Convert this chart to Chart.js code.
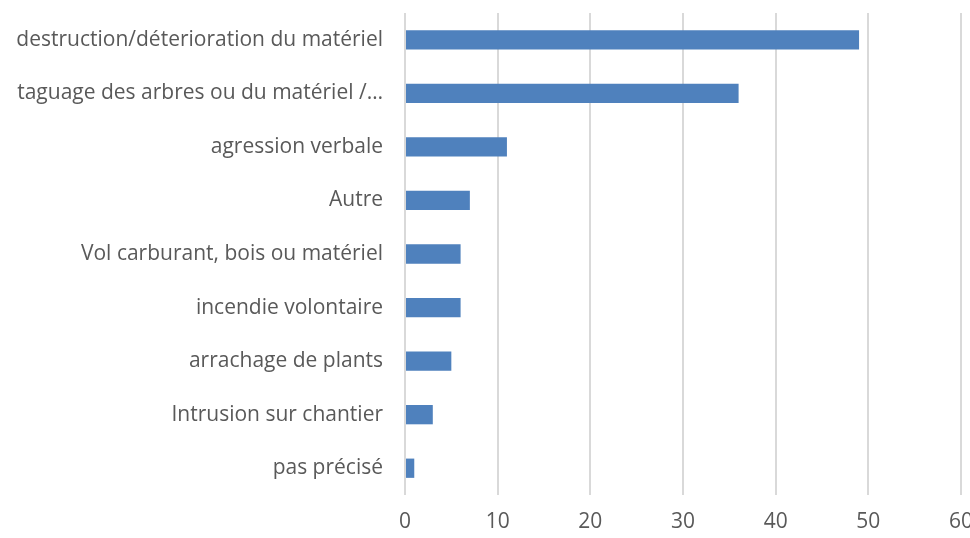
<!DOCTYPE html>
<html>
<head>
<meta charset="utf-8">
<script src="https://cdn.jsdelivr.net/npm/chart.js@4/dist/chart.umd.min.js"></script>
<style>
html,body{margin:0;padding:0;background:#fff;}
#wrap{width:970px;height:538px;position:relative;}
</style>
</head>
<body>
<div id="wrap"><canvas id="c" width="970" height="538"></canvas></div>
<script>
const categories = [
  "destruction/déterioration du matériel",
  "taguage des arbres ou du matériel /…",
  "agression verbale",
  "Autre",
  "Vol carburant, bois ou matériel",
  "incendie volontaire",
  "arrachage de plants",
  "Intrusion sur chantier",
  "pas précisé"
];
const values = [49, 36, 11, 7, 6, 6, 5, 3, 1];
const xTicks = [0, 10, 20, 30, 40, 50, 60];

const FONT = "'Open Sans', 'DejaVu Sans', sans-serif";
new Chart(document.getElementById('c'), {
  type: 'bar',
  data: {
    labels: categories,
    datasets: [{
      data: values,
      backgroundColor: '#4F81BD',
      borderWidth: 0,
      barPercentage: 0.72,
      categoryPercentage: 0.5
    }]
  },
  options: {
    indexAxis: 'y',
    responsive: false,
    animation: false,
    layout: { padding: { top: 13, left: 0, right: 9, bottom: 0 } },
    plugins: { legend: { display: false }, tooltip: { enabled: false } },
    scales: {
      x: {
        min: xTicks[0],
        max: xTicks[xTicks.length - 1],
        afterBuildTicks: (s) => { s.ticks = xTicks.map(v => ({ value: v })); },
        grid: { color: '#D9D9D9', lineWidth: 2, drawTicks: false },
        border: { display: false },
        ticks: { color: '#595959', font: { family: FONT, size: 21 }, padding: 14 },
        afterFit: (s) => { s.height = 43; s.paddingLeft = 0; s.paddingRight = 0; }
      },
      y: {
        grid: { display: false, drawTicks: false },
        border: { display: false },
        ticks: { color: '#595959', font: { family: FONT, size: 21 }, padding: 22, autoSkip: false },
        afterFit: (s) => { s.width = 405; s.paddingTop = 0; s.paddingBottom = 0; }
      }
    }
  }
});
</script>
</body>
</html>
